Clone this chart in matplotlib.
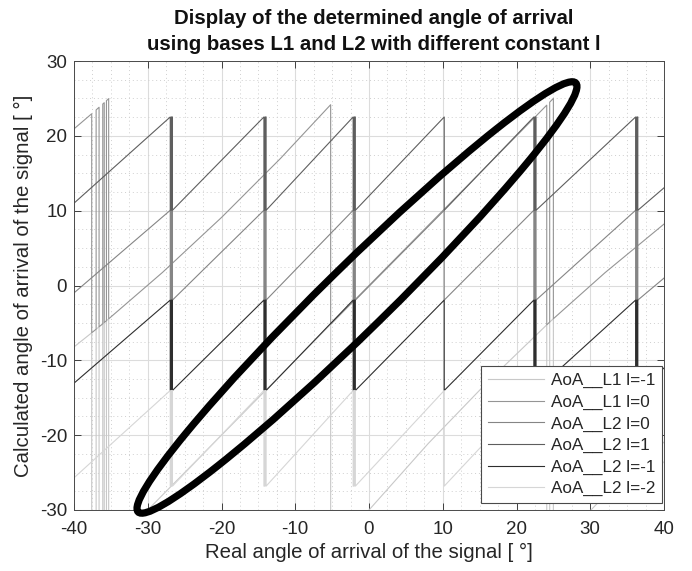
import matplotlib
matplotlib.use("Agg")
import matplotlib.pyplot as plt
from matplotlib.patches import Ellipse

plt.rcParams['font.family'] = ['Liberation Sans', 'DejaVu Sans']
plt.rcParams['axes.unicode_minus'] = False

# ---------------- data ----------------
# Baseline L1, constant l = 0  (vertices of the polyline, angles in degrees)
L1_X = [-40, -37.6, -37.6, -37.0, -37.0, -36.6, -36.6, -36.1, -36.1, -35.9, -35.9,
        -35.6, -35.6, -35.3, -35.3, -28, -20, -12, -5.2, -5.2,
        24.1, 24.1, 24.5, 24.5, 25.0, 25.0, 32, 40]
L1_L0_Y = [20.93, 22.95, -6.32, -5.84, 23.46, 23.82, -5.52, -5.12, 24.25, 24.43, -4.95,
           -4.71, 24.70, 24.97, -4.46, 1.75, 9.09, 16.98, 24.16, -5.2,
           24.1, -5.26, -4.89, 24.5, 25.0, -4.44, 1.71, 8.21]
# Baseline L1, constant l = -1
L1_LM1_Y = [-8.21, -6.32, -37.6, -37.0, -5.84, -5.52, -36.6, -36.1, -5.12, -4.95, -35.9,
            -35.6, -4.71, -4.46, -35.3, -28.0, -20.0, -12.0, -5.2, -36.2,
            -5.26, -36.27, -35.83, -4.89, -4.44, -35.27, -28.04, -20.93]
# extra interior points of L1 l=-1 low branch between -5.2 and 24.1
L1_LM1_MID_X = [-5.2, 0, 8, 16, 24.1]
L1_LM1_MID_Y = [-36.2, -30.0, -21.15, -12.97, -5.26]

# Baseline L2 (shared abscissa vertices)
L2_X = [-40, -26.95, -26.95, -26.8, -26.8, -26.65, -26.65,
        -14.25, -14.25, -14.1, -14.1, -13.95, -13.95,
        -2.15, -2.15, -2.0, -2.0, -1.85, -1.85,
        10.2, 10.2,
        22.35, 22.35, 22.5, 22.5, 22.65, 22.65,
        36.15, 36.15, 36.3, 36.3, 36.45, 36.45, 40]
L2_L0_Y = [-0.99, 10.05, -1.95, -1.95, 10.05, 10.05, -1.95,
           10.05, -1.95, -1.95, 10.05, 10.05, -1.95,
           10.05, -1.95, -1.95, 10.05, 10.05, -1.95,
           10.05, -1.95,
           10.05, -1.95, -1.95, 10.05, 10.05, -1.95,
           10.05, -1.95, -1.95, 10.05, 10.05, -1.95, 0.99]
L2_L1_Y = [11.0, 22.52, 10.05, 10.05, 22.52, 22.52, 10.05,
           22.52, 10.05, 10.05, 22.52, 22.52, 10.05,
           22.52, 10.05, 10.05, 22.52, 22.52, 10.05,
           22.52, 10.05,
           22.52, 10.05, 10.05, 22.52, 22.52, 10.05,
           22.52, 10.05, 10.05, 22.52, 22.52, 10.05, 13.05]
L2_LM1_Y = [-13.05, -1.95, -14.03, -14.03, -1.95, -1.95, -14.03,
            -1.95, -14.03, -14.03, -1.95, -1.95, -14.03,
            -1.95, -14.03, -14.03, -1.95, -1.95, -14.03,
            -1.95, -14.03,
            -1.95, -14.03, -14.03, -1.95, -1.95, -14.03,
            -1.95, -14.03, -14.03, -1.95, -1.95, -14.03, -11.02]
L2_LM2_Y = [-25.7, -14.03, -26.81, -26.81, -14.03, -14.03, -26.81,
            -14.03, -26.81, -26.81, -14.03, -14.03, -26.81,
            -14.03, -26.81, -26.81, -14.03, -14.03, -26.81,
            -14.03, -26.81,
            -14.03, -26.81, -26.81, -14.03, -14.03, -26.81,
            -14.03, -26.81, -26.81, -14.03, -14.03, -26.81, -23.56]

LABELS = ['AoA__L1 l=-1', 'AoA__L1 l=0', 'AoA__L2 l=0',
          'AoA__L2 l=1', 'AoA__L2 l=-1', 'AoA__L2 l=-2']
COLORS = ['#c8c8c8', '#959595', '#858585', '#5e5e5e', '#2e2e2e', '#d6d6d6']

X_TICKS = [-40, -30, -20, -10, 0, 10, 20, 30, 40]
Y_TICKS = [-30, -20, -10, 0, 10, 20, 30]

# highlighted region (annotation ellipse, data units)
ELL_CENTER = (-1.63, -1.6)
ELL_WIDTH = 82.5
ELL_HEIGHT = 8.7
ELL_ANGLE = 44.0

# ---------------- figure ----------------
fig = plt.figure(figsize=(6.92, 5.71), dpi=100)
ax = fig.add_axes([74 / 692, 61 / 571, 590 / 692, 449 / 571])

lw = 0.8
x_l1m1 = L1_X[:19] + L1_LM1_MID_X + L1_X[20:]
y_l1m1 = L1_LM1_Y[:19] + L1_LM1_MID_Y + L1_LM1_Y[20:]
ax.plot(x_l1m1, y_l1m1, color=COLORS[0], lw=lw, label=LABELS[0])
ax.plot(L1_X, L1_L0_Y, color=COLORS[1], lw=lw, label=LABELS[1])
ax.plot(L2_X, L2_L0_Y, color=COLORS[2], lw=lw, label=LABELS[2])
ax.plot(L2_X, L2_L1_Y, color=COLORS[3], lw=lw, label=LABELS[3])
ax.plot(L2_X, L2_LM1_Y, color=COLORS[4], lw=lw, label=LABELS[4])
ax.plot(L2_X, L2_LM2_Y, color=COLORS[5], lw=lw, label=LABELS[5])

ax.set_xlim(-40, 40)
ax.set_ylim(-30, 30)
ax.set_xticks(X_TICKS)
ax.set_yticks(Y_TICKS)
ax.set_xticks([v + d for v in X_TICKS[:-1] for d in (2.5, 5, 7.5)], minor=True)
ax.set_yticks([v + d for v in Y_TICKS[:-1] for d in (2.5, 5, 7.5)], minor=True)
ax.grid(True, which='major', color='#dcdcdc', lw=0.8)
ax.grid(True, which='minor', color='#cfcfcf', lw=0.7, linestyle=(0, (1, 3)))
ax.set_axisbelow(True)
ax.tick_params(which='major', direction='in', top=True, right=True, length=5,
               width=0.6, color='#262626', labelsize=13.5, labelcolor='#262626', pad=5)
ax.tick_params(axis='x', which='major', pad=8)
ax.tick_params(which='minor', length=0)
for s in ax.spines.values():
    s.set_color('#4a4a4a')
    s.set_linewidth(0.7)

ax.set_xlabel('Real angle of arrival of the signal [ °]', fontsize=14.7, color='#262626')
ax.set_ylabel('Calculated angle of arrival of the signal [ °]', fontsize=14.7, color='#262626')
ax.xaxis.set_label_coords(0.5, -0.073)
ax.yaxis.set_label_coords(-0.069, 0.5)

fig.text(0.5405, 1 - 19 / 571, 'Display of the determined angle of arrival',
         ha='center', va='center', fontsize=14.7, fontweight='bold', color='#111111')
fig.text(0.5405, 1 - 45 / 571, 'using bases L1 and L2 with different constant l',
         ha='center', va='center', fontsize=14.7, fontweight='bold', color='#111111')

leg = ax.legend(loc='lower right', bbox_to_anchor=(0.997, 0.015), borderaxespad=0,
                fontsize=12.3, handlelength=3.3, handletextpad=0.4, labelspacing=0.38,
                borderpad=0.4, fancybox=False, framealpha=1, edgecolor='#4a4a4a')
leg.get_frame().set_linewidth(0.8)
for t in leg.get_texts():
    t.set_color('#262626')

ell = Ellipse(ELL_CENTER, ELL_WIDTH, ELL_HEIGHT, angle=ELL_ANGLE, fill=False,
              edgecolor='black', lw=5.2, clip_on=False, zorder=5)
ax.add_patch(ell)

fig.savefig('out.png', dpi=100)
